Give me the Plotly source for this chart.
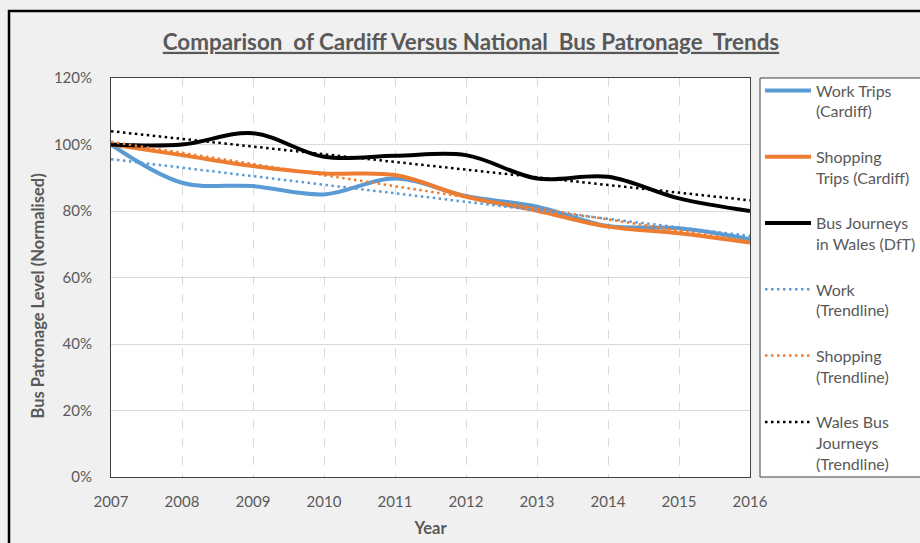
import plotly.graph_objects as go

years = [2007, 2008, 2009, 2010, 2011, 2012, 2013, 2014, 2015, 2016]
work_trips = [1.000, 0.885, 0.875, 0.850, 0.898, 0.845, 0.813, 0.755, 0.748, 0.715]
shopping_trips = [1.000, 0.968, 0.935, 0.913, 0.908, 0.843, 0.801, 0.753, 0.733, 0.705]
bus_journeys = [1.000, 1.000, 1.034, 0.963, 0.966, 0.968, 0.898, 0.903, 0.838, 0.800]

trend_years = [2007, 2016]
work_trend = [0.956, 0.725]
shopping_trend = [1.008, 0.708]
wales_trend = [1.040, 0.832]

x_ticks = [2007, 2008, 2009, 2010, 2011, 2012, 2013, 2014, 2015, 2016]
y_ticks = [0, 0.2, 0.4, 0.6, 0.8, 1.0, 1.2]

BLUE = "#5B9BD5"
ORANGE = "#ED7D31"
BLACK = "#000000"
GREY_TEXT = "#595959"
FONT = "Lato"

# plot-area geometry (px) used to place paper-referenced decorations
PL, PR, PT, PB = 111, 750, 78, 477
PW, PH = PR - PL, PB - PT

fig = go.Figure()

solid = [
    ("Work Trips<br>(Cardiff)", work_trips, BLUE),
    ("Shopping<br>Trips (Cardiff)", shopping_trips, ORANGE),
    ("Bus Journeys<br>in Wales (DfT)", bus_journeys, BLACK),
]
for i, (name, vals, col) in enumerate(solid):
    fig.add_trace(go.Scatter(
        x=years, y=vals, name=name, mode="lines",
        line=dict(color=col, width=4, shape="spline", smoothing=1.0),
        legendgroup=f"g{i}",
    ))

trends = [
    ("Work<br>(Trendline)", work_trend, BLUE),
    ("Shopping<br>(Trendline)", shopping_trend, ORANGE),
    ("Wales Bus<br>Journeys<br>(Trendline)", wales_trend, BLACK),
]
for i, (name, vals, col) in enumerate(trends):
    fig.add_trace(go.Scatter(
        x=trend_years, y=vals, name=name, mode="lines",
        line=dict(color=col, width=2.5, dash="2.5px,3.5px"),
        legendgroup=f"t{i}",
    ))

title_text = "Comparison  of Cardiff Versus National  Bus Patronage  Trends"

fig.update_layout(
    template="none",
    width=920, height=543,
    margin=dict(l=PL, r=920 - PR, t=PT, b=543 - PB, autoexpand=False),
    paper_bgcolor="#F0F0F0",
    plot_bgcolor="#FFFFFF",
    font=dict(family=FONT, color=GREY_TEXT, size=15),
    title=dict(
        text=f"<b><span style='text-decoration:underline'>{title_text}</span></b>",
        x=471 / 920, xanchor="center", xref="container",
        y=1 - 42 / 543, yanchor="middle", yref="container",
        font=dict(family=FONT, size=22.4, color=GREY_TEXT),
    ),
    showlegend=True,
    legend=dict(
        x=(760 - PL) / PW, xanchor="left", y=(PB - 73.5) / PH, yanchor="top",
        bgcolor="rgba(0,0,0,0)", borderwidth=0,
        font=dict(family=FONT, size=16, color=GREY_TEXT),
        tracegroupgap=21.7, valign="top", itemwidth=46,
        maxheight=700,
    ),
    annotations=[
        dict(text="<b>Bus Patronage Level (Normalised)</b>", textangle=-90,
             xref="paper", yref="paper",
             x=(37.5 - PL) / PW, y=(PB - 296) / PH,
             xanchor="center", yanchor="middle", showarrow=False,
             font=dict(family=FONT, size=16.5, color=GREY_TEXT)),
    ],
    shapes=[
        # legend box
        dict(type="rect", xref="paper", yref="paper",
             x0=(760 - PL) / PW, x1=(935 - PL) / PW, y0=0, y1=1,
             fillcolor="#FFFFFF", line=dict(color="#404040", width=1), layer="below"),
        # outer chart frame
        dict(type="rect", xref="paper", yref="paper",
             x0=(9 - PL) / PW, x1=(960 - PL) / PW,
             y0=(PB - 580) / PH, y1=(PB - 11) / PH,
             fillcolor="rgba(0,0,0,0)", line=dict(color="#000000", width=2.5), layer="below"),
    ],
)

fig.update_xaxes(
    range=[2007, 2016], tickvals=x_ticks, ticktext=[str(v) for v in x_ticks],
    showgrid=True, gridcolor="#D9D9D9", griddash="dash", gridwidth=1,
    showline=True, linecolor="#404040", linewidth=1, mirror=True,
    ticks="", ticklabelstandoff=11, automargin=False,
    tickfont=dict(family=FONT, size=15, color=GREY_TEXT),
    title=dict(text="<b>Year</b>", font=dict(family=FONT, size=16.5, color=GREY_TEXT), standoff=13),
    zeroline=False,
)
fig.update_yaxes(
    range=[0, 1.2], tickvals=y_ticks, tickformat=".0%",
    showgrid=True, gridcolor="#D9D9D9", gridwidth=1,
    showline=True, linecolor="#404040", linewidth=1, mirror=True,
    ticks="", ticklabelstandoff=15, automargin=False,
    tickfont=dict(family=FONT, size=15, color=GREY_TEXT),
    zeroline=False,
)

fig.write_html(
    "out.html",
    config={"displayModeBar": False},
    post_script="document.body.style.margin='0';document.body.style.overflow='hidden';",
)
